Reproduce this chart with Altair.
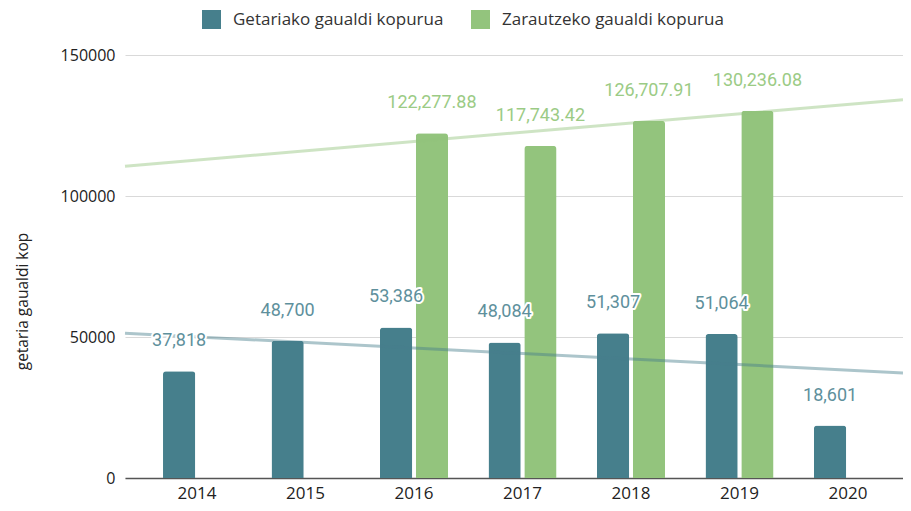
import altair as alt
import pandas as pd

years = [2014, 2015, 2016, 2017, 2018, 2019, 2020]
getaria = [37818, 48700, 53386, 48084, 51307, 51064, 18601]
zarautz_years = [2016, 2017, 2018, 2019]
zarautz = [122277.88, 117743.42, 126707.91, 130236.08]
series = ["Getariako gaualdi kopurua", "Zarautzeko gaualdi kopurua"]
bar_colors = ["#467f8c", "#93c47d"]
label_colors = ["#5e909c", "#9bcb85"]
y_ticks = [0, 50000, 100000, 150000]

rows = [{"year": y, "series": series[0], "value": v} for y, v in zip(years, getaria)]
rows += [{"year": y, "series": series[1], "value": v} for y, v in zip(zarautz_years, zarautz)]
df = pd.DataFrame(rows)

W, H = 778, 423
n = len(years)
pi, po, al = 0.373, 0.272, 0.644
step = W / (n - pi + 2 * po)
start = (W - step * (n - pi)) * al
center0 = start + step * (1 - pi) / 2
x0 = years[0] - center0 / step
x1 = x0 + W / step

band_scale = alt.Scale(paddingInner=pi, paddingOuter=po, align=al)
xband = alt.X("year:O", title=None, scale=band_scale,
              axis=alt.Axis(labelAngle=0, ticks=False, labelPadding=20,
                            labelBaseline="alphabetic",
                            labelFont="Open Sans", labelFontSize=17, labelColor="#222",
                            domainColor="#555", domainWidth=1.5, grid=False))
xband_hidden = alt.X("year:O", scale=band_scale, axis=None)
xoff = alt.XOffset("series:N", scale=alt.Scale(domain=series, paddingInner=0.1, paddingOuter=0))
yq = alt.Y("value:Q", scale=alt.Scale(domain=[0, 150000], nice=False),
           axis=alt.Axis(values=y_ticks, format="d", title="getaria gaualdi kop", ticks=False,
                         labelPadding=10, labelFont="Open Sans", labelFontSize=16,
                         labelColor="#222", domain=False, gridColor="#d9d9d9",
                         titleFont="Open Sans", titleFontSize=15.5, titleFontWeight="normal",
                         titleColor="#222", titleX=-103, titleY=246, titleAngle=-90,
                         titleAlign="center", titleBaseline="middle"))

bars = alt.Chart(df).mark_bar(cornerRadiusEnd=3).encode(
    x=xband, xOffset=xoff, y=yq,
    color=alt.Color("series:N", scale=alt.Scale(domain=series, range=bar_colors),
                    legend=alt.Legend(title=None, orient="none", legendX=77, legendY=-45,
                                      direction="horizontal", symbolType="square",
                                      symbolSize=361, symbolStrokeWidth=0,
                                      labelFont="Open Sans", labelFontSize=17,
                                      labelColor="#333", labelOffset=12, labelLimit=0,
                                      columnPadding=27)),
)

halo = alt.Chart(df).mark_text(font="Roboto", fontSize=18, baseline="middle", dy=-30,
                               stroke="white", strokeWidth=4, strokeJoin="round",
                               fill="white").encode(
    x=xband_hidden, xOffset=xoff, y=yq, text=alt.Text("value:Q", format=","))

labels = alt.Chart(df).mark_text(font="Roboto", fontSize=18, baseline="middle", dy=-30).encode(
    x=xband_hidden, xOffset=xoff, y=yq, text=alt.Text("value:Q", format=","),
    fill=alt.condition(alt.datum.series == series[0], alt.value(label_colors[0]),
                       alt.value(label_colors[1])))

trend = alt.Chart(df).transform_regression(
    "year", "value", groupby=["series"], extent=[x0, x1]
).mark_line(strokeWidth=3, strokeOpacity=0.45).encode(
    x=alt.X("year:Q", scale=alt.Scale(domain=[x0, x1], nice=False, zero=False), axis=None),
    y=alt.Y("value:Q", scale=alt.Scale(domain=[0, 150000], nice=False)),
    stroke=alt.Stroke("series:N", scale=alt.Scale(domain=series, range=bar_colors), legend=None),
)

chart = alt.layer(bars, trend, halo, labels).resolve_scale(x="independent").properties(
    width=W, height=H,
    autosize=alt.AutoSizeParams(type="none"),
    padding={"left": 117, "top": 47, "right": 0, "bottom": 25},
).configure_view(stroke=None)

chart.save("out.html", embed_options={"renderer": "svg", "actions": False})
